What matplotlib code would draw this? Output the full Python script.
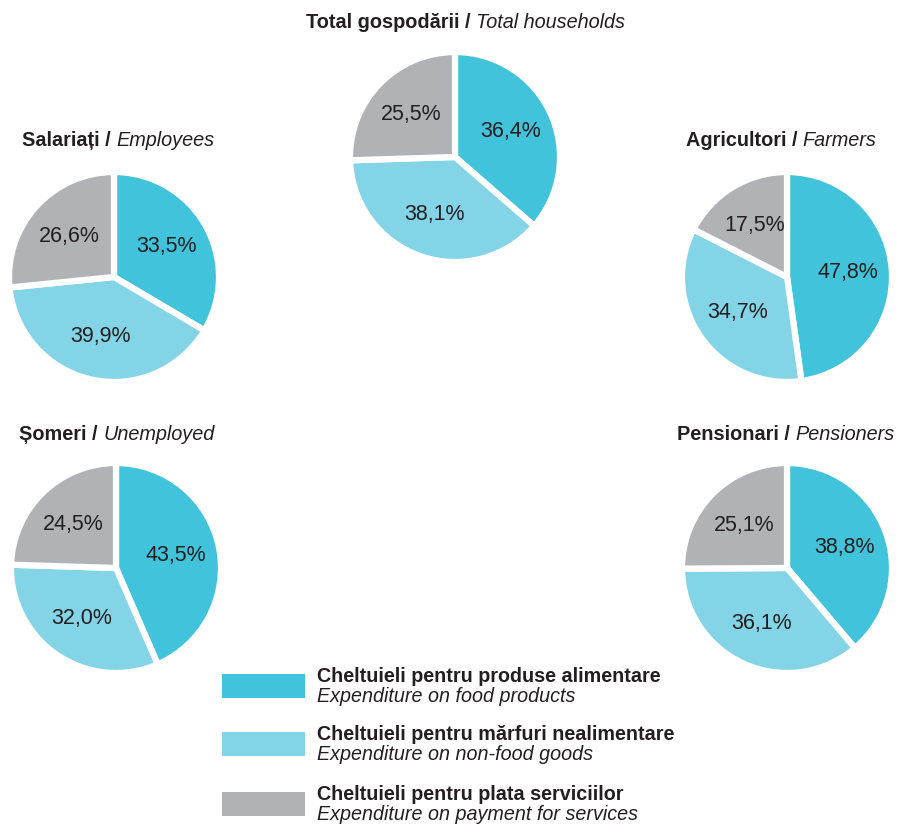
import numpy as np
import matplotlib
matplotlib.use("Agg")
import matplotlib.pyplot as plt
from matplotlib.patches import Rectangle

plt.rcParams['font.family'] = ['Liberation Sans', 'DejaVu Sans']

# ---- data ----
groups_ro = ["Total gospodării", "Salariați", "Agricultori", "Șomeri", "Pensionari"]
groups_en = ["Total households", "Employees", "Farmers", "Unemployed", "Pensioners"]
food = [36.4, 33.5, 47.8, 43.5, 38.8]
nonfood = [38.1, 39.9, 34.7, 32.0, 36.1]
services = [25.5, 26.6, 17.5, 24.5, 25.1]

cat_ro = ["Cheltuieli pentru produse alimentare",
          "Cheltuieli pentru mărfuri nealimentare",
          "Cheltuieli pentru plata serviciilor"]
cat_en = ["Expenditure on food products",
          "Expenditure on non-food goods",
          "Expenditure on payment for services"]
colors = ["#41C3DB", "#83D4E7", "#B1B2B6"]

W, H = 898, 826
fig = plt.figure(figsize=(W / 100, H / 100), dpi=100)
fig.patch.set_facecolor("white")

# layout in pixels: (center x, center y, radius, title y)
layout = [
    (455, 157, 105, 22),
    (114, 277, 105, 140),
    (787, 277, 105, 140),
    (116, 568, 105, 435),
    (787, 568, 105, 435),
]
title_x = [466, 118, 781, 117, 786]

text_color = "#231F20"
rnd = fig.canvas.get_renderer()

for i, (cx, cy, r, ty) in enumerate(layout):
    ax = fig.add_axes([(cx - r) / W, 1 - (cy + r) / H, 2 * r / W, 2 * r / H])
    vals = [food[i], nonfood[i], services[i]]
    wedges, _ = ax.pie(vals, colors=colors, startangle=90, counterclock=False,
                       radius=1.0,
                       wedgeprops=dict(edgecolor="white", linewidth=4.5))
    ax.set_xlim(-1.0, 1.0)
    ax.set_ylim(-1.0, 1.0)
    ax.set_aspect("equal")
    ax.axis("off")
    for w, v in zip(wedges, vals):
        ang = np.deg2rad((w.theta1 + w.theta2) / 2)
        d = 0.58
        ax.text(d * np.cos(ang), d * np.sin(ang),
                f"{v:.1f}%".replace(".", ","), ha="center", va="center",
                fontsize=15.5, color=text_color)
    # title: bold RO + italic EN
    t1 = groups_ro[i] + " / "
    t2 = groups_en[i]
    tmp1 = fig.text(0, 0, t1, fontsize=14.3, fontweight="bold", color=text_color, va="center")
    tmp2 = fig.text(0, 0, t2, fontsize=14.3, fontstyle="italic", color=text_color, va="center")
    w1 = tmp1.get_window_extent(rnd).width
    w2 = tmp2.get_window_extent(rnd).width
    x0 = title_x[i] - (w1 + w2) / 2
    tmp1.set_position((x0 / W, 1 - ty / H))
    tmp2.set_position(((x0 + w1) / W, 1 - ty / H))

# legend
leg_y = [686, 744, 804]
for j in range(3):
    yc = leg_y[j]
    fig.patches.append(Rectangle((222 / W, 1 - (yc + 12) / H), 83 / W, 24 / H,
                                 transform=fig.transFigure, facecolor=colors[j],
                                 edgecolor="none"))
    fig.text(317 / W, 1 - (yc - 9) / H, cat_ro[j], fontsize=14.2,
             fontweight="bold", va="center", color=text_color)
    fig.text(317 / W, 1 - (yc + 10) / H, cat_en[j], fontsize=14.2,
             fontstyle="italic", va="center", color=text_color)

fig.savefig("out.png", dpi=100, facecolor="white")
